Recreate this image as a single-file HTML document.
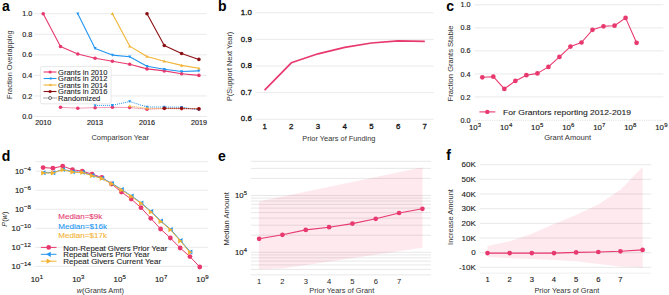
<!DOCTYPE html>
<html><head><meta charset="utf-8"><style>
html,body{margin:0;padding:0;background:#fff;width:669px;height:295px;overflow:hidden}
svg{display:block;font-family:"Liberation Sans",sans-serif}
</style></head><body>
<svg width="669" height="295" viewBox="0 0 669 295">
<rect width="669" height="295" fill="#fff"/>
<text x="2.00" y="10.80" font-size="14" text-anchor="start" fill="#000" font-weight="bold">a</text>
<line x1="34.00" y1="13.70" x2="207.00" y2="13.70" stroke="#e5e5e5" stroke-width="0.8"/>
<line x1="34.00" y1="34.26" x2="207.00" y2="34.26" stroke="#e5e5e5" stroke-width="0.8"/>
<line x1="34.00" y1="54.82" x2="207.00" y2="54.82" stroke="#e5e5e5" stroke-width="0.8"/>
<line x1="34.00" y1="75.38" x2="207.00" y2="75.38" stroke="#e5e5e5" stroke-width="0.8"/>
<line x1="34.00" y1="95.94" x2="207.00" y2="95.94" stroke="#e5e5e5" stroke-width="0.8"/>
<line x1="34.00" y1="116.50" x2="207.00" y2="116.50" stroke="#e5e5e5" stroke-width="0.8"/>
<text x="32.20" y="16.29" font-size="7.2" text-anchor="end" fill="#222222" font-weight="normal" stroke="#222" stroke-width="0.15">1.0</text>
<text x="32.20" y="36.85" font-size="7.2" text-anchor="end" fill="#222222" font-weight="normal" stroke="#222" stroke-width="0.15">0.8</text>
<text x="32.20" y="57.41" font-size="7.2" text-anchor="end" fill="#222222" font-weight="normal" stroke="#222" stroke-width="0.15">0.6</text>
<text x="32.20" y="77.97" font-size="7.2" text-anchor="end" fill="#222222" font-weight="normal" stroke="#222" stroke-width="0.15">0.4</text>
<text x="32.20" y="98.53" font-size="7.2" text-anchor="end" fill="#222222" font-weight="normal" stroke="#222" stroke-width="0.15">0.2</text>
<text x="32.20" y="119.09" font-size="7.2" text-anchor="end" fill="#222222" font-weight="normal" stroke="#222" stroke-width="0.15">0.0</text>
<text x="43.20" y="125.09" font-size="7.2" text-anchor="middle" fill="#222222" font-weight="normal" stroke="#222" stroke-width="0.15">2010</text>
<text x="95.10" y="125.09" font-size="7.2" text-anchor="middle" fill="#222222" font-weight="normal" stroke="#222" stroke-width="0.15">2013</text>
<text x="147.00" y="125.09" font-size="7.2" text-anchor="middle" fill="#222222" font-weight="normal" stroke="#222" stroke-width="0.15">2016</text>
<text x="198.90" y="125.09" font-size="7.2" text-anchor="middle" fill="#222222" font-weight="normal" stroke="#222" stroke-width="0.15">2019</text>
<text x="120.20" y="139.50" font-size="7.5" text-anchor="middle" fill="#333333" font-weight="normal">Comparison Year</text>
<text transform="translate(11.66,64.60) rotate(-90)" x="0" y="0" font-size="7.4" text-anchor="middle" fill="#333333">Fraction Overlapping</text>
<polyline points="60.50,107.30 77.80,108.20 95.10,107.70 112.40,107.30 129.70,107.50 147.00,109.20 164.30,108.50 181.60,108.80 198.90,109.00" fill="none" stroke="#e8396f" stroke-width="1.0" stroke-linejoin="round" stroke-dasharray="1,1"/>
<circle cx="60.50" cy="107.30" r="1.8" fill="#e8396f"/>
<circle cx="77.80" cy="108.20" r="1.8" fill="#e8396f"/>
<circle cx="95.10" cy="107.70" r="1.8" fill="#e8396f"/>
<circle cx="112.40" cy="107.30" r="1.8" fill="#e8396f"/>
<circle cx="129.70" cy="107.50" r="1.8" fill="#e8396f"/>
<circle cx="147.00" cy="109.20" r="1.8" fill="#e8396f"/>
<circle cx="164.30" cy="108.50" r="1.8" fill="#e8396f"/>
<circle cx="181.60" cy="108.80" r="1.8" fill="#e8396f"/>
<circle cx="198.90" cy="109.00" r="1.8" fill="#e8396f"/>
<polyline points="95.10,105.50 112.40,105.30 129.70,101.50 147.00,107.00 164.30,107.00 181.60,107.20 198.90,109.80" fill="none" stroke="#2196f3" stroke-width="1.0" stroke-linejoin="round" stroke-dasharray="1,1"/>
<polygon points="93.50,104.22 96.70,104.22 95.10,107.10" fill="#2196f3"/>
<polygon points="110.80,104.02 114.00,104.02 112.40,106.90" fill="#2196f3"/>
<polygon points="128.10,100.22 131.30,100.22 129.70,103.10" fill="#2196f3"/>
<polygon points="145.40,105.72 148.60,105.72 147.00,108.60" fill="#2196f3"/>
<polygon points="162.70,105.72 165.90,105.72 164.30,108.60" fill="#2196f3"/>
<polygon points="180.00,105.92 183.20,105.92 181.60,108.80" fill="#2196f3"/>
<polygon points="197.30,108.52 200.50,108.52 198.90,111.40" fill="#2196f3"/>
<polyline points="129.70,106.00 147.00,108.30 164.30,108.30 181.60,108.50 198.90,108.50" fill="none" stroke="#f2b233" stroke-width="1.0" stroke-linejoin="round" stroke-dasharray="1,1"/>
<polygon points="128.10,107.28 131.30,107.28 129.70,104.40" fill="#f2b233"/>
<polygon points="145.40,109.58 148.60,109.58 147.00,106.70" fill="#f2b233"/>
<polygon points="162.70,109.58 165.90,109.58 164.30,106.70" fill="#f2b233"/>
<polygon points="180.00,109.78 183.20,109.78 181.60,106.90" fill="#f2b233"/>
<polygon points="197.30,109.78 200.50,109.78 198.90,106.90" fill="#f2b233"/>
<polyline points="164.30,108.30 181.60,108.30 198.90,108.90" fill="none" stroke="#8c0f14" stroke-width="1.0" stroke-linejoin="round" stroke-dasharray="1,1"/>
<circle cx="164.30" cy="108.30" r="1.8" fill="#8c0f14"/>
<circle cx="181.60" cy="108.30" r="1.8" fill="#8c0f14"/>
<circle cx="198.90" cy="108.90" r="1.8" fill="#8c0f14"/>
<polyline points="43.20,13.70 60.50,46.50 77.80,54.00 95.10,58.30 112.40,61.20 129.70,64.20 147.00,68.90 164.30,70.90 181.60,73.80 198.90,75.40" fill="none" stroke="#e8396f" stroke-width="1.1" stroke-linejoin="round"/>
<circle cx="43.20" cy="13.70" r="1.8" fill="#e8396f"/>
<circle cx="60.50" cy="46.50" r="1.8" fill="#e8396f"/>
<circle cx="77.80" cy="54.00" r="1.8" fill="#e8396f"/>
<circle cx="95.10" cy="58.30" r="1.8" fill="#e8396f"/>
<circle cx="112.40" cy="61.20" r="1.8" fill="#e8396f"/>
<circle cx="129.70" cy="64.20" r="1.8" fill="#e8396f"/>
<circle cx="147.00" cy="68.90" r="1.8" fill="#e8396f"/>
<circle cx="164.30" cy="70.90" r="1.8" fill="#e8396f"/>
<circle cx="181.60" cy="73.80" r="1.8" fill="#e8396f"/>
<circle cx="198.90" cy="75.40" r="1.8" fill="#e8396f"/>
<polyline points="77.80,13.70 95.10,48.40 112.40,55.10 129.70,56.70 147.00,66.30 164.30,69.30 181.60,71.50 198.90,70.90" fill="none" stroke="#2196f3" stroke-width="1.1" stroke-linejoin="round"/>
<polygon points="76.20,12.42 79.40,12.42 77.80,15.30" fill="#2196f3"/>
<polygon points="93.50,47.12 96.70,47.12 95.10,50.00" fill="#2196f3"/>
<polygon points="110.80,53.82 114.00,53.82 112.40,56.70" fill="#2196f3"/>
<polygon points="128.10,55.42 131.30,55.42 129.70,58.30" fill="#2196f3"/>
<polygon points="145.40,65.02 148.60,65.02 147.00,67.90" fill="#2196f3"/>
<polygon points="162.70,68.02 165.90,68.02 164.30,70.90" fill="#2196f3"/>
<polygon points="180.00,70.22 183.20,70.22 181.60,73.10" fill="#2196f3"/>
<polygon points="197.30,69.62 200.50,69.62 198.90,72.50" fill="#2196f3"/>
<polyline points="112.40,13.70 129.70,46.10 147.00,56.50 164.30,61.20 181.60,65.40 198.90,68.30" fill="none" stroke="#f2b233" stroke-width="1.1" stroke-linejoin="round"/>
<polygon points="110.80,14.98 114.00,14.98 112.40,12.10" fill="#f2b233"/>
<polygon points="128.10,47.38 131.30,47.38 129.70,44.50" fill="#f2b233"/>
<polygon points="145.40,57.78 148.60,57.78 147.00,54.90" fill="#f2b233"/>
<polygon points="162.70,62.48 165.90,62.48 164.30,59.60" fill="#f2b233"/>
<polygon points="180.00,66.68 183.20,66.68 181.60,63.80" fill="#f2b233"/>
<polygon points="197.30,69.58 200.50,69.58 198.90,66.70" fill="#f2b233"/>
<polyline points="147.00,13.70 164.30,45.50 181.60,53.50 198.90,59.40" fill="none" stroke="#8c0f14" stroke-width="1.1" stroke-linejoin="round"/>
<circle cx="147.00" cy="13.70" r="1.8" fill="#8c0f14"/>
<circle cx="164.30" cy="45.50" r="1.8" fill="#8c0f14"/>
<circle cx="181.60" cy="53.50" r="1.8" fill="#8c0f14"/>
<circle cx="198.90" cy="59.40" r="1.8" fill="#8c0f14"/>
<rect x="40.4" y="66.6" width="70.7" height="37.2" rx="2" fill="#fff" fill-opacity="0.85" stroke="#d9d9d9" stroke-width="0.6"/>
<line x1="43.60" y1="72.00" x2="56.50" y2="72.00" stroke="#e8396f" stroke-width="1.1"/>
<circle cx="50.10" cy="72.00" r="1.6" fill="#e8396f"/>
<text x="58.10" y="74.84" font-size="7.9" text-anchor="start" fill="#222222" font-weight="normal" textLength="49.3" lengthAdjust="spacingAndGlyphs" stroke="#222" stroke-width="0.1">Grants in 2010</text>
<line x1="43.60" y1="78.50" x2="56.50" y2="78.50" stroke="#2196f3" stroke-width="1.1"/>
<polygon points="51.38,76.90 51.38,80.10 48.50,78.50" fill="#2196f3"/>
<text x="58.10" y="81.34" font-size="7.9" text-anchor="start" fill="#222222" font-weight="normal" textLength="49.3" lengthAdjust="spacingAndGlyphs" stroke="#222" stroke-width="0.1">Grants in 2012</text>
<line x1="43.60" y1="85.00" x2="56.50" y2="85.00" stroke="#f2b233" stroke-width="1.1"/>
<polygon points="51.38,83.40 51.38,86.60 48.50,85.00" fill="#f2b233"/>
<text x="58.10" y="87.84" font-size="7.9" text-anchor="start" fill="#222222" font-weight="normal" textLength="49.3" lengthAdjust="spacingAndGlyphs" stroke="#222" stroke-width="0.1">Grants in 2014</text>
<line x1="43.60" y1="91.50" x2="56.50" y2="91.50" stroke="#8c0f14" stroke-width="1.1"/>
<circle cx="50.10" cy="91.50" r="1.6" fill="#8c0f14"/>
<text x="58.10" y="94.34" font-size="7.9" text-anchor="start" fill="#222222" font-weight="normal" textLength="49.3" lengthAdjust="spacingAndGlyphs" stroke="#222" stroke-width="0.1">Grants in 2016</text>
<line x1="43.60" y1="98.00" x2="56.50" y2="98.00" stroke="#333" stroke-width="0.9" stroke-dasharray="1,1"/>
<circle cx="50.1" cy="98.0" r="1.5" fill="#fff" stroke="#333" stroke-width="0.7"/>
<text x="58.10" y="100.84" font-size="7.9" text-anchor="start" fill="#222222" font-weight="normal" textLength="42.2" lengthAdjust="spacingAndGlyphs" stroke="#222" stroke-width="0.1">Randomized</text>
<text x="217.90" y="11.00" font-size="14" text-anchor="start" fill="#000" font-weight="bold">b</text>
<line x1="255.50" y1="119.30" x2="433.50" y2="119.30" stroke="#e5e5e5" stroke-width="0.8"/>
<text x="251.80" y="121.44" font-size="7.9" text-anchor="end" fill="#222222" font-weight="normal" stroke="#111" stroke-width="0.3">0.6</text>
<line x1="255.50" y1="92.60" x2="433.50" y2="92.60" stroke="#e5e5e5" stroke-width="0.8"/>
<text x="251.80" y="94.74" font-size="7.9" text-anchor="end" fill="#222222" font-weight="normal" stroke="#111" stroke-width="0.3">0.7</text>
<line x1="255.50" y1="66.00" x2="433.50" y2="66.00" stroke="#e5e5e5" stroke-width="0.8"/>
<text x="251.80" y="68.14" font-size="7.9" text-anchor="end" fill="#222222" font-weight="normal" stroke="#111" stroke-width="0.3">0.8</text>
<line x1="255.50" y1="39.40" x2="433.50" y2="39.40" stroke="#e5e5e5" stroke-width="0.8"/>
<text x="251.80" y="41.54" font-size="7.9" text-anchor="end" fill="#222222" font-weight="normal" stroke="#111" stroke-width="0.3">0.9</text>
<line x1="255.50" y1="12.80" x2="433.50" y2="12.80" stroke="#e5e5e5" stroke-width="0.8"/>
<text x="251.80" y="14.94" font-size="7.9" text-anchor="end" fill="#222222" font-weight="normal" stroke="#111" stroke-width="0.3">1.0</text>
<text x="264.60" y="128.74" font-size="7.9" text-anchor="middle" fill="#222222" font-weight="normal" stroke="#111" stroke-width="0.3">1</text>
<text x="291.30" y="128.74" font-size="7.9" text-anchor="middle" fill="#222222" font-weight="normal" stroke="#111" stroke-width="0.3">2</text>
<text x="318.00" y="128.74" font-size="7.9" text-anchor="middle" fill="#222222" font-weight="normal" stroke="#111" stroke-width="0.3">3</text>
<text x="344.70" y="128.74" font-size="7.9" text-anchor="middle" fill="#222222" font-weight="normal" stroke="#111" stroke-width="0.3">4</text>
<text x="371.40" y="128.74" font-size="7.9" text-anchor="middle" fill="#222222" font-weight="normal" stroke="#111" stroke-width="0.3">5</text>
<text x="398.10" y="128.74" font-size="7.9" text-anchor="middle" fill="#222222" font-weight="normal" stroke="#111" stroke-width="0.3">6</text>
<text x="424.80" y="128.74" font-size="7.9" text-anchor="middle" fill="#222222" font-weight="normal" stroke="#111" stroke-width="0.3">7</text>
<text x="338.90" y="140.56" font-size="7.4" text-anchor="middle" fill="#333333" font-weight="normal">Prior Years of Funding</text>
<text transform="translate(232.25,66.40) rotate(-90)" x="0" y="0" font-size="7.35" text-anchor="middle" fill="#333333">P(Support Next Year)</text>
<polyline points="264.60,90.10 291.30,62.80 318.00,53.80 344.70,47.40 371.40,43.00 398.10,40.90 424.80,41.30" fill="none" stroke="#e8396f" stroke-width="1.7" stroke-linejoin="round"/>
<text x="446.30" y="10.80" font-size="14" text-anchor="start" fill="#000" font-weight="bold">c</text>
<line x1="474.60" y1="4.80" x2="663.40" y2="4.80" stroke="#e5e5e5" stroke-width="0.8"/>
<text x="470.40" y="7.39" font-size="7.2" text-anchor="end" fill="#222222" font-weight="normal" stroke="#222" stroke-width="0.15">1.0</text>
<line x1="474.60" y1="27.84" x2="663.40" y2="27.84" stroke="#e5e5e5" stroke-width="0.8"/>
<text x="470.40" y="30.43" font-size="7.2" text-anchor="end" fill="#222222" font-weight="normal" stroke="#222" stroke-width="0.15">0.8</text>
<line x1="474.60" y1="50.88" x2="663.40" y2="50.88" stroke="#e5e5e5" stroke-width="0.8"/>
<text x="470.40" y="53.47" font-size="7.2" text-anchor="end" fill="#222222" font-weight="normal" stroke="#222" stroke-width="0.15">0.6</text>
<line x1="474.60" y1="73.92" x2="663.40" y2="73.92" stroke="#e5e5e5" stroke-width="0.8"/>
<text x="470.40" y="76.51" font-size="7.2" text-anchor="end" fill="#222222" font-weight="normal" stroke="#222" stroke-width="0.15">0.4</text>
<line x1="474.60" y1="96.96" x2="663.40" y2="96.96" stroke="#e5e5e5" stroke-width="0.8"/>
<text x="470.40" y="99.55" font-size="7.2" text-anchor="end" fill="#222222" font-weight="normal" stroke="#222" stroke-width="0.15">0.2</text>
<line x1="474.60" y1="120.30" x2="663.40" y2="120.30" stroke="#cfcfcf" stroke-width="0.7" stroke-dasharray="1,1.2"/>
<text x="470.40" y="122.59" font-size="7.2" text-anchor="end" fill="#222222" font-weight="normal" stroke="#222" stroke-width="0.15">0.0</text>
<text x="475.10" y="129.70" font-size="7.8" text-anchor="middle" fill="#222222" font-family="Liberation Sans" stroke="#222" stroke-width="0.15">10<tspan font-size="6.0" dy="-3.0" dx="0.2">3</tspan></text>
<text x="506.15" y="129.70" font-size="7.8" text-anchor="middle" fill="#222222" font-family="Liberation Sans" stroke="#222" stroke-width="0.15">10<tspan font-size="6.0" dy="-3.0" dx="0.2">4</tspan></text>
<text x="537.20" y="129.70" font-size="7.8" text-anchor="middle" fill="#222222" font-family="Liberation Sans" stroke="#222" stroke-width="0.15">10<tspan font-size="6.0" dy="-3.0" dx="0.2">5</tspan></text>
<text x="568.25" y="129.70" font-size="7.8" text-anchor="middle" fill="#222222" font-family="Liberation Sans" stroke="#222" stroke-width="0.15">10<tspan font-size="6.0" dy="-3.0" dx="0.2">6</tspan></text>
<text x="599.30" y="129.70" font-size="7.8" text-anchor="middle" fill="#222222" font-family="Liberation Sans" stroke="#222" stroke-width="0.15">10<tspan font-size="6.0" dy="-3.0" dx="0.2">7</tspan></text>
<text x="630.35" y="129.70" font-size="7.8" text-anchor="middle" fill="#222222" font-family="Liberation Sans" stroke="#222" stroke-width="0.15">10<tspan font-size="6.0" dy="-3.0" dx="0.2">8</tspan></text>
<text x="661.40" y="129.70" font-size="7.8" text-anchor="middle" fill="#222222" font-family="Liberation Sans" stroke="#222" stroke-width="0.15">10<tspan font-size="6.0" dy="-3.0" dx="0.2">9</tspan></text>
<text x="567.60" y="139.74" font-size="7.6" text-anchor="middle" fill="#333333" font-weight="normal">Grant Amount</text>
<text transform="translate(452.74,63.40) rotate(-90)" x="0" y="0" font-size="7.6" text-anchor="middle" fill="#333333">Fraction Grants Stable</text>
<polyline points="482.30,77.30 493.32,76.70 504.34,88.90 515.36,80.90 526.38,75.20 537.40,73.40 548.42,66.90 559.44,56.90 570.46,46.60 581.48,42.50 592.50,29.80 603.52,26.30 614.54,25.70 625.56,17.90 636.58,42.80" fill="none" stroke="#e8396f" stroke-width="1.1" stroke-linejoin="round"/>
<circle cx="482.30" cy="77.30" r="2.35" fill="#e8396f"/>
<circle cx="493.32" cy="76.70" r="2.35" fill="#e8396f"/>
<circle cx="504.34" cy="88.90" r="2.35" fill="#e8396f"/>
<circle cx="515.36" cy="80.90" r="2.35" fill="#e8396f"/>
<circle cx="526.38" cy="75.20" r="2.35" fill="#e8396f"/>
<circle cx="537.40" cy="73.40" r="2.35" fill="#e8396f"/>
<circle cx="548.42" cy="66.90" r="2.35" fill="#e8396f"/>
<circle cx="559.44" cy="56.90" r="2.35" fill="#e8396f"/>
<circle cx="570.46" cy="46.60" r="2.35" fill="#e8396f"/>
<circle cx="581.48" cy="42.50" r="2.35" fill="#e8396f"/>
<circle cx="592.50" cy="29.80" r="2.35" fill="#e8396f"/>
<circle cx="603.52" cy="26.30" r="2.35" fill="#e8396f"/>
<circle cx="614.54" cy="25.70" r="2.35" fill="#e8396f"/>
<circle cx="625.56" cy="17.90" r="2.35" fill="#e8396f"/>
<circle cx="636.58" cy="42.80" r="2.35" fill="#e8396f"/>
<line x1="479.40" y1="111.90" x2="495.40" y2="111.90" stroke="#e8396f" stroke-width="1.1"/>
<circle cx="487.30" cy="111.90" r="2.2" fill="#e8396f"/>
<text x="503.00" y="114.52" font-size="8.1" text-anchor="start" fill="#222222" font-weight="normal" textLength="128" lengthAdjust="spacingAndGlyphs" stroke="#222" stroke-width="0.1">For Grantors reporting 2012-2019</text>
<text x="1.70" y="160.90" font-size="14" text-anchor="start" fill="#000" font-weight="bold">d</text>
<line x1="35.50" y1="161.70" x2="207.80" y2="161.70" stroke="#e5e5e5" stroke-width="0.8"/>
<line x1="35.50" y1="171.20" x2="207.80" y2="171.20" stroke="#e5e5e5" stroke-width="0.8"/>
<text x="31.00" y="173.70" font-size="7.9" text-anchor="end" fill="#222222" font-family="Liberation Sans" stroke="#222" stroke-width="0.15">10<tspan font-size="6.2" dy="-3.2" dx="0.2">−4</tspan></text>
<line x1="35.50" y1="190.24" x2="207.80" y2="190.24" stroke="#e5e5e5" stroke-width="0.8"/>
<text x="31.00" y="192.74" font-size="7.9" text-anchor="end" fill="#222222" font-family="Liberation Sans" stroke="#222" stroke-width="0.15">10<tspan font-size="6.2" dy="-3.2" dx="0.2">−6</tspan></text>
<line x1="35.50" y1="209.28" x2="207.80" y2="209.28" stroke="#e5e5e5" stroke-width="0.8"/>
<text x="31.00" y="211.78" font-size="7.9" text-anchor="end" fill="#222222" font-family="Liberation Sans" stroke="#222" stroke-width="0.15">10<tspan font-size="6.2" dy="-3.2" dx="0.2">−8</tspan></text>
<line x1="35.50" y1="228.32" x2="207.80" y2="228.32" stroke="#e5e5e5" stroke-width="0.8"/>
<text x="31.00" y="230.82" font-size="7.9" text-anchor="end" fill="#222222" font-family="Liberation Sans" stroke="#222" stroke-width="0.15">10<tspan font-size="6.2" dy="-3.2" dx="0.2">−10</tspan></text>
<line x1="35.50" y1="247.36" x2="207.80" y2="247.36" stroke="#e5e5e5" stroke-width="0.8"/>
<text x="31.00" y="249.86" font-size="7.9" text-anchor="end" fill="#222222" font-family="Liberation Sans" stroke="#222" stroke-width="0.15">10<tspan font-size="6.2" dy="-3.2" dx="0.2">−12</tspan></text>
<line x1="35.50" y1="266.40" x2="207.80" y2="266.40" stroke="#e5e5e5" stroke-width="0.8"/>
<text x="31.00" y="268.90" font-size="7.9" text-anchor="end" fill="#222222" font-family="Liberation Sans" stroke="#222" stroke-width="0.15">10<tspan font-size="6.2" dy="-3.2" dx="0.2">−14</tspan></text>
<text x="36.90" y="281.80" font-size="7.9" text-anchor="middle" fill="#222222" font-family="Liberation Sans" stroke="#222" stroke-width="0.15">10<tspan font-size="6.0" dy="-3.0" dx="0.2">1</tspan></text>
<text x="78.30" y="281.80" font-size="7.9" text-anchor="middle" fill="#222222" font-family="Liberation Sans" stroke="#222" stroke-width="0.15">10<tspan font-size="6.0" dy="-3.0" dx="0.2">3</tspan></text>
<text x="119.70" y="281.80" font-size="7.9" text-anchor="middle" fill="#222222" font-family="Liberation Sans" stroke="#222" stroke-width="0.15">10<tspan font-size="6.0" dy="-3.0" dx="0.2">5</tspan></text>
<text x="161.10" y="281.80" font-size="7.9" text-anchor="middle" fill="#222222" font-family="Liberation Sans" stroke="#222" stroke-width="0.15">10<tspan font-size="6.0" dy="-3.0" dx="0.2">7</tspan></text>
<text x="202.50" y="281.80" font-size="7.9" text-anchor="middle" fill="#222222" font-family="Liberation Sans" stroke="#222" stroke-width="0.15">10<tspan font-size="6.0" dy="-3.0" dx="0.2">9</tspan></text>
<text x="100.3" y="293.16" font-size="7.4" text-anchor="middle" fill="#333333"><tspan font-style="italic">w</tspan>(Grants Amt)</text>
<text transform="translate(6.86,219.2) rotate(-90)" font-size="7.4" text-anchor="middle" fill="#333333"><tspan font-style="italic">P</tspan>(<tspan font-style="italic">w</tspan>)</text>
<polyline points="43.10,167.60 52.89,168.20 62.68,166.10 72.47,169.70 82.26,171.20 92.05,174.10 101.84,177.50 111.63,184.00 121.42,192.00 131.21,199.10 141.00,207.70 150.79,218.30 160.58,229.00 170.37,238.00 180.16,248.00 189.95,256.60 199.74,267.00" fill="none" stroke="#e8396f" stroke-width="1.0" stroke-linejoin="round"/>
<circle cx="43.10" cy="167.60" r="2.4" fill="#e8396f"/>
<circle cx="52.89" cy="168.20" r="2.4" fill="#e8396f"/>
<circle cx="62.68" cy="166.10" r="2.4" fill="#e8396f"/>
<circle cx="72.47" cy="169.70" r="2.4" fill="#e8396f"/>
<circle cx="82.26" cy="171.20" r="2.4" fill="#e8396f"/>
<circle cx="92.05" cy="174.10" r="2.4" fill="#e8396f"/>
<circle cx="101.84" cy="177.50" r="2.4" fill="#e8396f"/>
<circle cx="111.63" cy="184.00" r="2.4" fill="#e8396f"/>
<circle cx="121.42" cy="192.00" r="2.4" fill="#e8396f"/>
<circle cx="131.21" cy="199.10" r="2.4" fill="#e8396f"/>
<circle cx="141.00" cy="207.70" r="2.4" fill="#e8396f"/>
<circle cx="150.79" cy="218.30" r="2.4" fill="#e8396f"/>
<circle cx="160.58" cy="229.00" r="2.4" fill="#e8396f"/>
<circle cx="170.37" cy="238.00" r="2.4" fill="#e8396f"/>
<circle cx="180.16" cy="248.00" r="2.4" fill="#e8396f"/>
<circle cx="189.95" cy="256.60" r="2.4" fill="#e8396f"/>
<circle cx="199.74" cy="267.00" r="2.4" fill="#e8396f"/>
<polyline points="43.50,172.70 53.29,172.70 63.08,169.40 72.87,171.80 82.66,172.30 92.45,175.40 102.24,178.30 112.03,183.40 121.82,189.60 131.61,196.10 141.40,203.00 151.19,211.60 160.98,221.10 170.77,229.40 180.56,240.60 190.35,252.00" fill="none" stroke="#2196f3" stroke-width="1.0" stroke-linejoin="round"/>
<polygon points="45.50,170.20 45.50,175.20 41.00,172.70" fill="#2196f3"/>
<polygon points="55.29,170.20 55.29,175.20 50.79,172.70" fill="#2196f3"/>
<polygon points="65.08,166.90 65.08,171.90 60.58,169.40" fill="#2196f3"/>
<polygon points="74.87,169.30 74.87,174.30 70.37,171.80" fill="#2196f3"/>
<polygon points="84.66,169.80 84.66,174.80 80.16,172.30" fill="#2196f3"/>
<polygon points="94.45,172.90 94.45,177.90 89.95,175.40" fill="#2196f3"/>
<polygon points="104.24,175.80 104.24,180.80 99.74,178.30" fill="#2196f3"/>
<polygon points="114.03,180.90 114.03,185.90 109.53,183.40" fill="#2196f3"/>
<polygon points="123.82,187.10 123.82,192.10 119.32,189.60" fill="#2196f3"/>
<polygon points="133.61,193.60 133.61,198.60 129.11,196.10" fill="#2196f3"/>
<polygon points="143.40,200.50 143.40,205.50 138.90,203.00" fill="#2196f3"/>
<polygon points="153.19,209.10 153.19,214.10 148.69,211.60" fill="#2196f3"/>
<polygon points="162.98,218.60 162.98,223.60 158.48,221.10" fill="#2196f3"/>
<polygon points="172.77,226.90 172.77,231.90 168.27,229.40" fill="#2196f3"/>
<polygon points="182.56,238.10 182.56,243.10 178.06,240.60" fill="#2196f3"/>
<polygon points="192.35,249.50 192.35,254.50 187.85,252.00" fill="#2196f3"/>
<polyline points="43.10,173.00 52.89,173.00 62.68,169.70 72.47,172.10 82.26,172.60 92.05,175.70 101.84,178.60 111.63,183.70 121.42,189.90 131.21,196.40 141.00,203.30 150.79,211.90 160.58,221.40 170.37,229.70 180.16,240.90 189.95,252.30" fill="none" stroke="#f2b233" stroke-width="1.0" stroke-linejoin="round"/>
<polygon points="41.10,170.50 41.10,175.50 45.60,173.00" fill="#f2b233"/>
<polygon points="50.89,170.50 50.89,175.50 55.39,173.00" fill="#f2b233"/>
<polygon points="60.68,167.20 60.68,172.20 65.18,169.70" fill="#f2b233"/>
<polygon points="70.47,169.60 70.47,174.60 74.97,172.10" fill="#f2b233"/>
<polygon points="80.26,170.10 80.26,175.10 84.76,172.60" fill="#f2b233"/>
<polygon points="90.05,173.20 90.05,178.20 94.55,175.70" fill="#f2b233"/>
<polygon points="99.84,176.10 99.84,181.10 104.34,178.60" fill="#f2b233"/>
<polygon points="109.63,181.20 109.63,186.20 114.13,183.70" fill="#f2b233"/>
<polygon points="119.42,187.40 119.42,192.40 123.92,189.90" fill="#f2b233"/>
<polygon points="129.21,193.90 129.21,198.90 133.71,196.40" fill="#f2b233"/>
<polygon points="139.00,200.80 139.00,205.80 143.50,203.30" fill="#f2b233"/>
<polygon points="148.79,209.40 148.79,214.40 153.29,211.90" fill="#f2b233"/>
<polygon points="158.58,218.90 158.58,223.90 163.08,221.40" fill="#f2b233"/>
<polygon points="168.37,227.20 168.37,232.20 172.87,229.70" fill="#f2b233"/>
<polygon points="178.16,238.40 178.16,243.40 182.66,240.90" fill="#f2b233"/>
<polygon points="187.95,249.80 187.95,254.80 192.45,252.30" fill="#f2b233"/>
<text x="58.30" y="219.14" font-size="7.9" text-anchor="start" fill="#e8396f" font-weight="normal" textLength="44.0" lengthAdjust="spacingAndGlyphs" stroke="#e8396f" stroke-width="0.1">Median=$9k</text>
<text x="58.30" y="228.64" font-size="7.9" text-anchor="start" fill="#2196f3" font-weight="normal" textLength="48.7" lengthAdjust="spacingAndGlyphs" stroke="#2196f3" stroke-width="0.1">Median=$16k</text>
<text x="58.30" y="238.04" font-size="7.9" text-anchor="start" fill="#f2b233" font-weight="normal" textLength="48.7" lengthAdjust="spacingAndGlyphs" stroke="#f2b233" stroke-width="0.1">Median=$17k</text>
<line x1="40.90" y1="247.40" x2="56.50" y2="247.40" stroke="#e8396f" stroke-width="1.0"/>
<circle cx="48.70" cy="247.40" r="2.4" fill="#e8396f"/>
<text x="63.30" y="250.54" font-size="7.9" text-anchor="start" fill="#222222" font-weight="normal" textLength="104" lengthAdjust="spacingAndGlyphs" stroke="#222" stroke-width="0.1">Non-Repeat Givers Prior Year</text>
<line x1="40.90" y1="254.30" x2="56.50" y2="254.30" stroke="#2196f3" stroke-width="1.0"/>
<polygon points="50.78,251.70 50.78,256.90 46.10,254.30" fill="#2196f3"/>
<text x="63.30" y="257.44" font-size="7.9" text-anchor="start" fill="#222222" font-weight="normal" textLength="86.2" lengthAdjust="spacingAndGlyphs" stroke="#222" stroke-width="0.1">Repeat Givers Prior Year</text>
<line x1="40.90" y1="261.20" x2="56.50" y2="261.20" stroke="#f2b233" stroke-width="1.0"/>
<polygon points="46.62,258.60 46.62,263.80 51.30,261.20" fill="#f2b233"/>
<text x="63.30" y="264.34" font-size="7.9" text-anchor="start" fill="#222222" font-weight="normal" textLength="97.8" lengthAdjust="spacingAndGlyphs" stroke="#222" stroke-width="0.1">Repeat Givers Current Year</text>
<text x="217.90" y="161.00" font-size="14" text-anchor="start" fill="#000" font-weight="bold">e</text>
<polygon points="258.9,201.4 422.5,167.3 422.5,247.7 282.4,268.5 258.9,269.3" fill="#fde9ee"/>
<line x1="251.00" y1="274.90" x2="431.00" y2="274.90" stroke="#000" stroke-width="0.8" stroke-opacity="0.12"/>
<line x1="251.00" y1="269.40" x2="431.00" y2="269.40" stroke="#000" stroke-width="0.8" stroke-opacity="0.12"/>
<line x1="251.00" y1="264.90" x2="431.00" y2="264.90" stroke="#000" stroke-width="0.8" stroke-opacity="0.12"/>
<line x1="251.00" y1="261.10" x2="431.00" y2="261.10" stroke="#000" stroke-width="0.8" stroke-opacity="0.12"/>
<line x1="251.00" y1="257.80" x2="431.00" y2="257.80" stroke="#000" stroke-width="0.8" stroke-opacity="0.12"/>
<line x1="251.00" y1="254.90" x2="431.00" y2="254.90" stroke="#000" stroke-width="0.8" stroke-opacity="0.12"/>
<line x1="251.00" y1="252.30" x2="431.00" y2="252.30" stroke="#000" stroke-width="0.8" stroke-opacity="0.12"/>
<line x1="251.00" y1="235.20" x2="431.00" y2="235.20" stroke="#000" stroke-width="0.8" stroke-opacity="0.12"/>
<line x1="251.00" y1="225.20" x2="431.00" y2="225.20" stroke="#000" stroke-width="0.8" stroke-opacity="0.12"/>
<line x1="251.00" y1="218.10" x2="431.00" y2="218.10" stroke="#000" stroke-width="0.8" stroke-opacity="0.12"/>
<line x1="251.00" y1="212.60" x2="431.00" y2="212.60" stroke="#000" stroke-width="0.8" stroke-opacity="0.12"/>
<line x1="251.00" y1="208.10" x2="431.00" y2="208.10" stroke="#000" stroke-width="0.8" stroke-opacity="0.12"/>
<line x1="251.00" y1="204.30" x2="431.00" y2="204.30" stroke="#000" stroke-width="0.8" stroke-opacity="0.12"/>
<line x1="251.00" y1="201.00" x2="431.00" y2="201.00" stroke="#000" stroke-width="0.8" stroke-opacity="0.12"/>
<line x1="251.00" y1="198.10" x2="431.00" y2="198.10" stroke="#000" stroke-width="0.8" stroke-opacity="0.12"/>
<line x1="251.00" y1="195.50" x2="431.00" y2="195.50" stroke="#000" stroke-width="0.8" stroke-opacity="0.12"/>
<line x1="251.00" y1="178.40" x2="431.00" y2="178.40" stroke="#000" stroke-width="0.8" stroke-opacity="0.12"/>
<line x1="251.00" y1="168.40" x2="431.00" y2="168.40" stroke="#000" stroke-width="0.8" stroke-opacity="0.12"/>
<line x1="251.00" y1="161.30" x2="431.00" y2="161.30" stroke="#000" stroke-width="0.8" stroke-opacity="0.12"/>
<text x="247.00" y="197.80" font-size="7.8" text-anchor="end" fill="#222222" font-family="Liberation Sans" stroke="#222" stroke-width="0.15">10<tspan font-size="5.8" dy="-2.8" dx="0.2">5</tspan></text>
<text x="247.00" y="254.90" font-size="7.8" text-anchor="end" fill="#222222" font-family="Liberation Sans" stroke="#222" stroke-width="0.15">10<tspan font-size="5.8" dy="-2.8" dx="0.2">4</tspan></text>
<text x="259.10" y="283.74" font-size="7.6" text-anchor="middle" fill="#222222" font-weight="normal">1</text>
<text x="282.43" y="283.74" font-size="7.6" text-anchor="middle" fill="#222222" font-weight="normal">2</text>
<text x="305.76" y="283.74" font-size="7.6" text-anchor="middle" fill="#222222" font-weight="normal">3</text>
<text x="329.09" y="283.74" font-size="7.6" text-anchor="middle" fill="#222222" font-weight="normal">4</text>
<text x="352.42" y="283.74" font-size="7.6" text-anchor="middle" fill="#222222" font-weight="normal">5</text>
<text x="375.75" y="283.74" font-size="7.6" text-anchor="middle" fill="#222222" font-weight="normal">6</text>
<text x="399.08" y="283.74" font-size="7.6" text-anchor="middle" fill="#222222" font-weight="normal">7</text>
<polyline points="259.10,238.80 282.43,234.80 305.76,229.90 329.09,227.20 352.42,223.60 375.75,218.80 399.08,213.00 422.41,208.80" fill="none" stroke="#e8396f" stroke-width="1.1" stroke-linejoin="round"/>
<circle cx="259.10" cy="238.80" r="2.35" fill="#e8396f"/>
<circle cx="282.43" cy="234.80" r="2.35" fill="#e8396f"/>
<circle cx="305.76" cy="229.90" r="2.35" fill="#e8396f"/>
<circle cx="329.09" cy="227.20" r="2.35" fill="#e8396f"/>
<circle cx="352.42" cy="223.60" r="2.35" fill="#e8396f"/>
<circle cx="375.75" cy="218.80" r="2.35" fill="#e8396f"/>
<circle cx="399.08" cy="213.00" r="2.35" fill="#e8396f"/>
<circle cx="422.41" cy="208.80" r="2.35" fill="#e8396f"/>
<text x="341.80" y="292.96" font-size="7.4" text-anchor="middle" fill="#333333" font-weight="normal">Prior Years of Grant</text>
<text transform="translate(229.17,218.80) rotate(-90)" x="0" y="0" font-size="7.7" text-anchor="middle" fill="#333333">Median Amount</text>
<text x="446.30" y="160.30" font-size="14" text-anchor="start" fill="#000" font-weight="bold">f</text>
<polygon points="487.50,246.10 509.66,241.30 531.82,233.80 553.98,224.00 576.14,215.00 598.30,204.60 620.46,189.80 642.62,167.10 642.62,267.50 620.46,266.50 598.30,264.00 576.14,261.30 553.98,260.00 531.82,259.00 509.66,258.30 487.50,257.00" fill="#fde9ee"/>
<line x1="480.00" y1="164.68" x2="651.00" y2="164.68" stroke="#000" stroke-width="0.8" stroke-opacity="0.12"/>
<text x="475.80" y="167.26" font-size="8.0" text-anchor="end" fill="#222222" font-weight="normal" stroke="#222" stroke-width="0.12">60K</text>
<line x1="480.00" y1="179.35" x2="651.00" y2="179.35" stroke="#000" stroke-width="0.8" stroke-opacity="0.12"/>
<text x="475.80" y="181.93" font-size="8.0" text-anchor="end" fill="#222222" font-weight="normal" stroke="#222" stroke-width="0.12">50K</text>
<line x1="480.00" y1="194.02" x2="651.00" y2="194.02" stroke="#000" stroke-width="0.8" stroke-opacity="0.12"/>
<text x="475.80" y="196.60" font-size="8.0" text-anchor="end" fill="#222222" font-weight="normal" stroke="#222" stroke-width="0.12">40K</text>
<line x1="480.00" y1="208.69" x2="651.00" y2="208.69" stroke="#000" stroke-width="0.8" stroke-opacity="0.12"/>
<text x="475.80" y="211.27" font-size="8.0" text-anchor="end" fill="#222222" font-weight="normal" stroke="#222" stroke-width="0.12">30K</text>
<line x1="480.00" y1="223.36" x2="651.00" y2="223.36" stroke="#000" stroke-width="0.8" stroke-opacity="0.12"/>
<text x="475.80" y="225.94" font-size="8.0" text-anchor="end" fill="#222222" font-weight="normal" stroke="#222" stroke-width="0.12">20K</text>
<line x1="480.00" y1="238.03" x2="651.00" y2="238.03" stroke="#000" stroke-width="0.8" stroke-opacity="0.12"/>
<text x="475.80" y="240.61" font-size="8.0" text-anchor="end" fill="#222222" font-weight="normal" stroke="#222" stroke-width="0.12">10K</text>
<line x1="480.00" y1="252.70" x2="651.00" y2="252.70" stroke="#000" stroke-width="0.8" stroke-opacity="0.12"/>
<text x="475.80" y="255.28" font-size="8.0" text-anchor="end" fill="#222222" font-weight="normal" stroke="#222" stroke-width="0.12">0</text>
<line x1="480.00" y1="267.37" x2="651.00" y2="267.37" stroke="#000" stroke-width="0.8" stroke-opacity="0.12"/>
<text x="475.80" y="269.95" font-size="8.0" text-anchor="end" fill="#222222" font-weight="normal" stroke="#222" stroke-width="0.12">-10K</text>
<line x1="480.00" y1="273.20" x2="651.00" y2="273.20" stroke="#ececec" stroke-width="0.8"/>
<polyline points="487.50,253.10 509.66,253.10 531.82,253.10 553.98,253.10 576.14,252.40 598.30,252.00 620.46,251.30 642.62,249.90" fill="none" stroke="#e8396f" stroke-width="1.1" stroke-linejoin="round"/>
<circle cx="487.50" cy="253.10" r="2.35" fill="#e8396f"/>
<circle cx="509.66" cy="253.10" r="2.35" fill="#e8396f"/>
<circle cx="531.82" cy="253.10" r="2.35" fill="#e8396f"/>
<circle cx="553.98" cy="253.10" r="2.35" fill="#e8396f"/>
<circle cx="576.14" cy="252.40" r="2.35" fill="#e8396f"/>
<circle cx="598.30" cy="252.00" r="2.35" fill="#e8396f"/>
<circle cx="620.46" cy="251.30" r="2.35" fill="#e8396f"/>
<circle cx="642.62" cy="249.90" r="2.35" fill="#e8396f"/>
<text x="487.50" y="282.34" font-size="7.6" text-anchor="middle" fill="#222222" font-weight="normal" stroke="#222" stroke-width="0.15">1</text>
<text x="509.66" y="282.34" font-size="7.6" text-anchor="middle" fill="#222222" font-weight="normal" stroke="#222" stroke-width="0.15">2</text>
<text x="531.82" y="282.34" font-size="7.6" text-anchor="middle" fill="#222222" font-weight="normal" stroke="#222" stroke-width="0.15">3</text>
<text x="553.98" y="282.34" font-size="7.6" text-anchor="middle" fill="#222222" font-weight="normal" stroke="#222" stroke-width="0.15">4</text>
<text x="576.14" y="282.34" font-size="7.6" text-anchor="middle" fill="#222222" font-weight="normal" stroke="#222" stroke-width="0.15">5</text>
<text x="598.30" y="282.34" font-size="7.6" text-anchor="middle" fill="#222222" font-weight="normal" stroke="#222" stroke-width="0.15">6</text>
<text x="620.46" y="282.34" font-size="7.6" text-anchor="middle" fill="#222222" font-weight="normal" stroke="#222" stroke-width="0.15">7</text>
<text x="566.90" y="292.56" font-size="7.4" text-anchor="middle" fill="#333333" font-weight="normal">Prior Years of Grant</text>
<text transform="translate(452.78,217.00) rotate(-90)" x="0" y="0" font-size="7.45" text-anchor="middle" fill="#333333">Increase Amount</text>
</svg></body></html>
